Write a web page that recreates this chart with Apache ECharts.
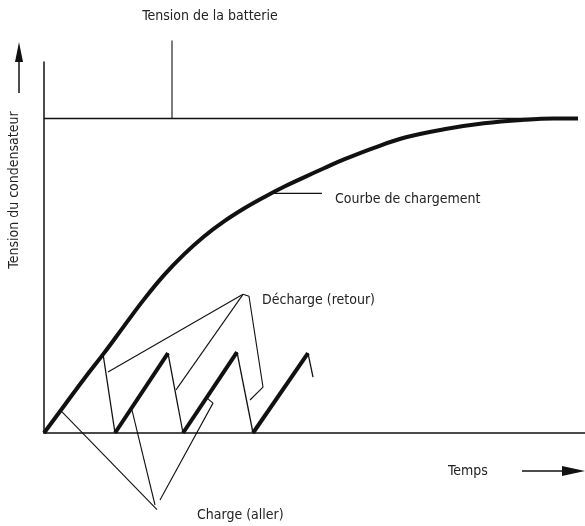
<!DOCTYPE html>
<html>
<head>
<meta charset="utf-8">
<script src="https://cdn.jsdelivr.net/npm/echarts@6/dist/echarts.min.js"></script>
<style>
  html, body { margin: 0; padding: 0; background: #fff; }
  #main { width: 585px; height: 526px; }
</style>
</head>
<body>
<div id="main"></div>
<script>
// courbe de charge du condensateur (temps, tension en % de la batterie)
var courbeT = [0, 20, 40, 60, 80, 100, 120, 140, 160, 180, 200, 220, 240, 260, 280, 300, 330, 360, 400, 440, 480, 510, 534];
var courbeV = [0, 8.6, 17.2, 25.4, 34.0, 42.5, 50.2, 56.8, 62.5, 67.3, 71.4, 75.0, 78.3, 81.3, 84.2, 87.0, 90.7, 93.9, 96.6, 98.5, 99.6, 100, 100];
var batterie = [[0,100],[534,100]];
// dents de scie : charge (aller) et décharge (retour)
var charges = [
  [[71,0],[124,25.4]],
  [[139,0],[193,25.7]],
  [[209,0],[264,25.4]]
];
var decharges = [
  [[59,25.2],[71,0]],
  [[124,25.4],[139,0]],
  [[193,25.7],[209,0]],
  [[264,25.4],[269,17.8]]
];
// traits de renvoi vers les textes
var renvois = [
  [[128,100],[128,124.8]],
  [[226,76.2],[278,76.2]],
  [[199,44.1],[64,19.4]],
  [[199,44.1],[132,13.7]],
  [[199,44.1],[205,43.5],[219,14.6],[206,10.5]],
  [[113,-24.4],[18,6.7]],
  [[111,-22.9],[88,7.3]],
  [[116,-21.3],[169,9.5],[163,11.1]]
];

var ink = '#111';
var police = '14px "Liberation Sans Narrow", "DejaVu Sans Condensed", sans-serif';

var myChart = echarts.init(document.getElementById('main'));

var courbe = [];
for (var i = 0; i < courbeT.length; i++) {
  courbe.push([courbeT[i], courbeV[i]]);
}

var series = [];
series.push({type: 'line', data: batterie, symbol: 'none', silent: true,
  lineStyle: {color: ink, width: 1.5}});
series.push({type: 'line', data: courbe, symbol: 'none', smooth: 0.4, silent: true,
  lineStyle: {color: ink, width: 4}});
for (var i = 0; i < charges.length; i++) {
  series.push({type: 'line', data: charges[i], symbol: 'none', silent: true,
    lineStyle: {color: ink, width: 4}});
}
for (var i = 0; i < decharges.length; i++) {
  series.push({type: 'line', data: decharges[i], symbol: 'none', silent: true,
    lineStyle: {color: ink, width: 1.3}});
}
for (var i = 0; i < renvois.length; i++) {
  series.push({type: 'line', data: renvois[i], symbol: 'none', silent: true, clip: false,
    lineStyle: {color: ink, width: 1.1}});
}

function texte(t, x, y, align, rot) {
  return {type: 'text', x: x, y: y, rotation: rot || 0, silent: true,
    style: {text: t, font: police, fill: '#222', align: align || 'left', verticalAlign: 'middle'}};
}

var option = {
  animation: false,
  backgroundColor: '#fff',
  grid: {left: 44, right: 0, top: 62, bottom: 93},
  xAxis: {type: 'value', min: 0, max: 541,
    axisLine: {show: true, lineStyle: {color: ink, width: 1.5}},
    axisTick: {show: false}, axisLabel: {show: false}, splitLine: {show: false}},
  yAxis: {type: 'value', min: 0, max: 118,
    axisLine: {show: true, lineStyle: {color: ink, width: 1.5}},
    axisTick: {show: false}, axisLabel: {show: false}, splitLine: {show: false}},
  series: series,
  graphic: [
    texte('Tension de la batterie', 210, 16, 'center'),
    texte('Courbe de chargement', 335, 199),
    texte('Décharge (retour)', 262, 300),
    texte('Charge (aller)', 197, 515),
    texte('Temps', 448, 471),
    texte('Tension du condensateur', 14, 190, 'center', Math.PI / 2),
    {type: 'line', silent: true, shape: {x1: 19, y1: 93, x2: 19, y2: 58},
      style: {stroke: ink, lineWidth: 1.5}},
    {type: 'polygon', silent: true, shape: {points: [[15, 62], [23, 62], [19, 42]]},
      style: {fill: ink}},
    {type: 'line', silent: true, shape: {x1: 522, y1: 471, x2: 566, y2: 471},
      style: {stroke: ink, lineWidth: 1.5}},
    {type: 'polygon', silent: true, shape: {points: [[562, 466], [562, 476], [585, 471]]},
      style: {fill: ink}}
  ]
};

myChart.setOption(option);
</script>
</body>
</html>
